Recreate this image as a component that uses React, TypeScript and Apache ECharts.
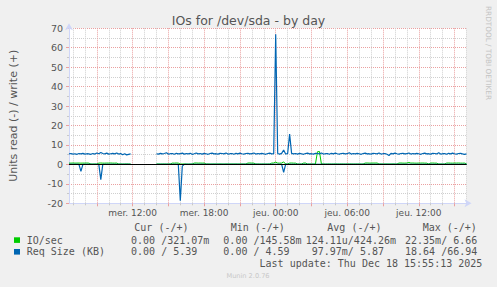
import React, { useEffect, useRef } from 'react';
import * as echarts from 'echarts';

// Time base: Wed 06:40, one sample every 10 minutes, up to Thu 16:00
const START_MIN = 400;
const STEP_MIN = 10;

const xTickLabels = ['mer. 12:00', 'mer. 18:00', 'jeu. 00:00', 'jeu. 06:00', 'jeu. 12:00'];

// IO/sec read (plotted negative)
const ioRead = [
  0, 0, 0, 0, 0, 0, 0, 0, 0, 0,
  0, 0, 0, 0, 0, 0, 0, 0, 0, 0,
  0, 0, 0, 0, 0, 0, 0, 0, 0, 0,
  0, 0, null, null, null, null, null, null, null, null,
  null, null, null, null, 0, 0, 0, 0, 0, 0,
  0, 0, 0, 0, 0, 0, 0.022, 0, 0, 0,
  0, 0, 0, 0, 0, 0, 0, 0, 0, 0,
  0, 0, 0, 0, 0, 0, 0, 0, 0, 0,
  0, 0, 0, 0, 0, 0, 0, 0, 0, 0,
  0, 0, 0, 0, 0, 0, 0, 0, 0, 0,
  0, 0, 0, 0, 0, 0, 0, 0, 0.022, 0,
  0, 0, 0, 0, 0, 0, 0, 0, 0, 0,
  0, 0, 0, 0, 0, 0, 0, 0, 0, 0,
  0, 0, 0, 0, 0, 0, 0, 0, 0, 0,
  0, 0, 0, 0, 0, 0, 0, 0, 0, 0,
  0, 0, 0, 0, 0, 0, 0, 0, 0, 0,
  0, 0, 0, 0, 0, 0, 0, 0, 0, 0,
  0, 0, 0, 0, 0, 0, 0, 0, 0, 0,
  0, 0, 0, 0, 0, 0, 0, 0, 0, 0,
  0, 0, 0, 0, 0, 0, 0, 0, 0, 0,
  0,
];

// IO/sec write (plotted positive)
const ioWrite = [
  0.68, 0.65, 0.72, 0.66, 0.68, 0.7, 0.65, 0.69, 0.67, 0.72,
  0.65, 0.2, 0.18, 0.22, 0.2, 0.68, 0.72, 0.66, 0.65, 0.7,
  0.68, 0.72, 0.66, 0.65, 0.69, 0.2, 0.22, 0.18, 0.2, 0.25,
  0.2, 0.19, null, null, null, null, null, null, null, null,
  null, null, null, null, 0.2, 0.22, 0.18, 0.2, 0.21, 0.19,
  0.2, 0.23, 0.68, 0.65, 0.72, 0.66, 0.2, 0.18, 0.22, 0.2,
  0.15, 0.2, 0.22, 0.68, 0.72, 0.65, 0.69, 0.66, 0.7, 0.2,
  0.22, 0.18, 0.2, 0.21, 0.19, 0.2, 0.23, 0.2, 0.18, 0.22,
  0.2, 0.19, 0.21, 0.2, 0.22, 0.18, 0.2, 0.21, 0.2, 0.19,
  0.68, 0.72, 0.66, 0.65, 0.2, 0.22, 0.18, 0.2, 0.21, 0.19,
  0.2, 0.22, 0.68, 0.72, 1.2, 0.68, 0.65, 0.7, 1.3, 0.2,
  0.22, 0.68, 0.72, 0.66, 0.65, 0.2, 0.19, 0.21, 0.68, 0.72,
  0.2, 0.22, 0.18, 0.2, 0.21, 6.5, 6.66, 0.2, 0.22, 0.18,
  0.2, 0.21, 0.19, 0.2, 0.23, 0.2, 0.18, 0.22, 0.2, 0.19,
  0.21, 0.2, 0.22, 0.18, 0.2, 0.21, 0.2, 0.19, 0.2, 0.68,
  0.72, 0.66, 0.65, 0.7, 0.68, 0.72, 0.2, 0.22, 0.18, 0.2,
  0.21, 0.19, 0.2, 0.23, 0.2, 0.18, 0.68, 0.72, 0.66, 0.65,
  0.7, 1.0, 0.68, 0.72, 0.66, 0.65, 0.69, 0.68, 0.72, 0.66,
  0.65, 0.2, 0.68, 0.72, 0.66, 0.65, 0.2, 0.22, 0.18, 0.2,
  0.68, 0.72, 0.66, 0.65, 0.7, 0.68, 0.72, 0.66, 0.65, 0.69,
  0.32,
];

// Req Size (KB) read (plotted negative)
const reqRead = [
  0, 0, 0, 0, 0, 0, 3.6, 0, 0, 0,
  0, 0, 0, 0, 0, 0, 7.8, 0, 0, 0,
  0, 0, 0, 0, 0, 0, 0, 0, 0, 0,
  0, 0, null, null, null, null, null, null, null, null,
  null, null, null, null, 0, 0, 0, 0, 0, 0,
  0, 0, 0, 0, 0, 0, 18.64, 0.9, 0, 0,
  0, 0, 0, 0, 0, 0, 0, 0, 0, 0,
  0, 0, 0, 0, 0, 0, 0, 0, 0, 0,
  0, 0, 0, 0, 0, 0, 0, 0, 0, 0,
  0, 0, 0, 0, 0, 0, 0, 0, 0, 0,
  0, 0, 0, 0, 0, 0, 0, 0, 4.1, 0,
  0, 0, 0, 0, 0, 0, 0, 0, 0, 0,
  0, 0, 0, 0, 0, 0, 0, 0, 0, 0,
  0, 0, 0, 0, 0, 0, 0, 0, 0, 0,
  0, 0, 0, 0, 0, 0, 0, 0, 0, 0,
  0, 0, 0, 0, 0, 0, 0, 0, 0, 0,
  0, 0, 0, 0, 0, 0, 0, 0, 0, 0,
  0, 0, 0, 0, 0, 0, 0, 0, 0, 0,
  0, 0, 0, 0, 0, 0, 0, 0, 0, 0,
  0, 0, 0, 0, 0, 0, 0, 0, 0, 0,
  0,
];

// Req Size (KB) write (plotted positive)
const reqWrite = [
  5.4, 5.6, 5.3, 5.5, 5.2, 5.6, 5.4, 5.7, 5.3, 5.5,
  5.4, 5.2, 5.6, 5.3, 5.9, 5.5, 6.1, 5.6, 5.4, 5.8,
  5.3, 5.5, 5.7, 5.4, 5.9, 5.3, 5.6, 5.0, 5.5, 4.9,
  5.2, 5.4, null, null, null, null, null, null, null, null,
  null, null, null, null, 5.5, 5.3, 5.7, 5.4, 5.6, 6.0,
  5.3, 5.5, 5.6, 5.2, 5.7, 5.4, 5.5, 5.8, 5.3, 5.6,
  5.4, 5.7, 5.2, 5.5, 5.9, 5.4, 5.6, 5.3, 5.7, 5.5,
  5.2, 5.6, 5.8, 5.4, 5.5, 5.3, 5.7, 5.6, 5.4, 5.9,
  5.3, 5.5, 5.6, 5.2, 5.7, 5.4, 5.8, 5.5, 5.3, 5.6,
  5.7, 5.4, 5.5, 5.9, 5.3, 5.6, 5.4, 5.7, 5.5, 5.2,
  5.6, 5.8, 5.4, 5.5, 66.94, 5.6, 5.3, 5.7, 7.4, 5.4,
  5.5, 15.6, 5.7, 5.4, 5.6, 5.3, 5.7, 5.5, 5.2, 5.6,
  5.8, 5.4, 5.5, 5.3, 5.7, 5.6, 5.4, 5.9, 5.3, 5.5,
  5.6, 5.2, 5.7, 5.4, 5.8, 5.5, 5.3, 5.6, 5.7, 5.4,
  5.5, 6.0, 5.3, 5.6, 5.4, 5.7, 5.5, 5.2, 5.6, 5.8,
  5.4, 5.5, 5.3, 5.7, 5.6, 5.4, 5.9, 5.3, 5.5, 5.6,
  5.2, 4.59, 5.7, 5.4, 5.8, 5.5, 5.3, 5.6, 5.7, 5.4,
  5.5, 5.9, 5.3, 5.6, 5.4, 5.7, 5.5, 5.2, 5.6, 5.8,
  5.4, 5.5, 5.3, 5.7, 5.6, 5.4, 6.0, 5.3, 5.5, 5.6,
  5.2, 5.7, 5.4, 5.8, 5.5, 5.3, 5.6, 5.7, 5.4, 5.2,
  5.39,
];

// Legend texts
const legendHeaders = ['Cur (-/+)', 'Min (-/+)', 'Avg (-/+)', 'Max (-/+)'];
const legendNames = ['IO/sec', 'Req Size (KB)'];
const legendColors = ['#00CC00', '#0066B3'];
const ioReadStats = ['0.00', '0.00', '124.11u', '22.35m'];
const ioWriteStats = ['321.07m', '145.58m', '424.26m', '6.66'];
const reqReadStats = ['0.00', '0.00', '97.97m', '18.64'];
const reqWriteStats = ['5.39', '4.59', '5.87', '66.94'];
const lastUpdate = 'Last update: Thu Dec 18 15:55:13 2025';

function fmtTime(min: number) {
  const day = min < 1440 ? 'mer.' : 'jeu.';
  const m = min % 1440;
  const h = Math.floor(m / 60);
  const mm = m % 60;
  return `${day} ${String(h).padStart(2, '0')}:${String(mm).padStart(2, '0')}`;
}

const timeCategories = ioWrite.map((_, i) => fmtTime(START_MIN + i * STEP_MIN));

const minuteOf = (i: number) => START_MIN + i * STEP_MIN;
const isMinorHour = (i: number) => minuteOf(i) % 60 === 0 && minuteOf(i) % 180 !== 0;
const isMajorHour = (i: number) => minuteOf(i) % 180 === 0;

const TEXT = '#555555';
const SANS = 'DejaVu Sans';
const MONO = 'DejaVu Sans Mono';
const AXIS = '#CFD6F8';

const unitOf = (s: string) => (/[a-z]$/i.test(s) ? s.slice(-1) : '');
const numOf = (s: string) => (unitOf(s) ? s.slice(0, -1) : s);

export default function App() {
  const ref = useRef<HTMLDivElement>(null);

  useEffect(() => {
    if (!ref.current) return;
    const chart = echarts.init(ref.current, null, { renderer: 'svg' });

    const cw = 6.02;
    const cellX = [119, 211.3, 305.7, 399];
    const rowY = [240, 251.7];
    const graphic: any[] = [];

    const txt = (text: string, x: number, y: number, opts: any = {}) => ({
      type: 'text',
      x,
      y,
      silent: true,
      rotation: opts.rotation || 0,
      style: {
        text,
        fill: opts.fill || TEXT,
        fontSize: opts.fontSize || 10,
        fontFamily: opts.fontFamily || MONO,
        align: opts.align || 'left',
        verticalAlign: 'middle',
      },
    });

    graphic.push(txt('IOs for /dev/sda - by day', 248.5, 20, { fontFamily: SANS, fontSize: 12.5, align: 'center' }));
    graphic.push(
      txt('RRDTOOL / TOBI OETIKER', 488, 53, {
        fontFamily: SANS,
        fontSize: 7.3,
        align: 'center',
        fill: '#c4c4c4',
        rotation: -Math.PI / 2,
      })
    );
    const headerX = [134.3, 230.7, 327.3, 422.7];
    legendHeaders.forEach((h, k) => graphic.push(txt(h, headerX[k], 227.3)));

    const rows = [
      [ioReadStats, ioWriteStats],
      [reqReadStats, reqWriteStats],
    ];
    rows.forEach(([rd, wr], r) => {
      const y = rowY[r];
      graphic.push({
        type: 'rect',
        silent: true,
        shape: { x: 14, y: y - 2.7, width: 6, height: 5.6 },
        style: { fill: legendColors[r] },
      });
      graphic.push(txt(legendNames[r], 26.7, y));
      for (let k = 0; k < 4; k++) {
        const a = rd[k];
        const b = wr[k];
        const aNum = numOf(a);
        const readPart = a + (unitOf(a) ? '' : ' ');
        const bNum = numOf(b);
        const padded = ' '.repeat(Math.max(0, 6 - bNum.length)) + b;
        const writePart = bNum.length >= 6 ? padded : padded.slice(1);
        const x = cellX[k] + (6 - aNum.length) * cw;
        graphic.push(txt(readPart + '/' + writePart, x, y));
      }
    });
    graphic.push(txt(lastUpdate, 482.3, 263.3, { align: 'right' }));
    graphic.push(txt('Munin 2.0.76', 248, 276, { fontFamily: SANS, fontSize: 6.6, align: 'center', fill: '#c8c8c8' }));

    const line = (name: string, data: any[], color: string, z: number, width: number) => ({
      type: 'line',
      name,
      data,
      xAxisIndex: 0,
      yAxisIndex: 0,
      showSymbol: false,
      symbol: 'none',
      connectNulls: false,
      silent: true,
      z,
      lineStyle: { color, width },
      itemStyle: { color },
    });

    const neg = (arr: (number | null)[]) => arr.map((v) => (v == null ? null : -v));

    chart.setOption({
      animation: false,
      backgroundColor: '#F0F0F0',
      grid: {
        left: 66.5,
        top: 28.3,
        width: 400,
        height: 175,
        show: true,
        backgroundColor: '#FFFFFF',
        borderWidth: 0,
      },
      xAxis: [
        {
          type: 'category',
          data: timeCategories,
          boundaryGap: false,
          axisLine: {
            show: true,
            onZero: false,
            lineStyle: { color: AXIS, width: 1 },
            symbol: ['none', 'arrow'],
            symbolSize: [6, 7],
            symbolOffset: [0, 5],
          },
          axisTick: { show: true, length: 2, interval: (i: number) => isMinorHour(i), lineStyle: { color: '#c8c8c8' } },
          axisLabel: {
            show: true,
            interval: (_i: number, v: string) => xTickLabels.includes(v),
            color: TEXT,
            fontSize: 9,
            fontFamily: SANS,
            margin: 5,
            hideOverlap: false,
          },
          splitLine: {
            show: true,
            interval: (i: number) => isMinorHour(i),
            lineStyle: { color: '#cfcfcf', type: [1, 1], width: 1 },
          },
        },
        {
          type: 'category',
          data: timeCategories,
          boundaryGap: false,
          position: 'bottom',
          axisLine: { show: false, onZero: false },
          axisTick: { show: true, length: 3, interval: (i: number) => isMajorHour(i), lineStyle: { color: '#eaa0a0' } },
          axisLabel: { show: false },
          splitLine: {
            show: true,
            interval: (i: number) => isMajorHour(i),
            lineStyle: { color: '#eaa0a0', type: [1, 1], width: 1 },
          },
        },
      ],
      yAxis: {
        type: 'value',
        min: -20,
        max: 70,
        interval: 10,
        name: 'Units read (-) / write (+)',
        nameLocation: 'middle',
        nameGap: 50,
        nameTextStyle: { color: TEXT, fontSize: 11, fontFamily: SANS },
        axisLine: {
          show: true,
          lineStyle: { color: AXIS, width: 1 },
          symbol: ['none', 'arrow'],
          symbolSize: [6, 7],
          symbolOffset: [0, 5],
        },
        axisTick: { show: true, length: 3, lineStyle: { color: '#eaa0a0' } },
        axisLabel: { color: TEXT, fontSize: 9.5, fontFamily: SANS, margin: 6 },
        splitLine: { show: true, lineStyle: { color: '#eaa0a0', type: [1, 1], width: 1 } },
        minorTick: { show: true, splitNumber: 2, length: 2, lineStyle: { color: '#c8c8c8' } },
        minorSplitLine: { show: true, lineStyle: { color: '#cfcfcf', type: [1, 1], width: 1 } },
      },
      series: [
        line('IO/sec read', neg(ioRead), '#00CC00', 2, 1),
        line('IO/sec', ioWrite, '#00CC00', 2, 1),
        line('Req Size (KB) read', neg(reqRead), '#0066B3', 3, 1.2),
        line('Req Size (KB)', reqWrite, '#0066B3', 3, 1.2),
        {
          type: 'line',
          name: 'zero',
          data: [],
          z: 10,
          silent: true,
          markLine: {
            silent: true,
            symbol: ['none', 'none'],
            label: { show: false },
            lineStyle: { color: '#000000', width: 1, type: 'solid' },
            data: [{ yAxis: 0 }],
          },
        },
      ],
      graphic,
    });

    return () => chart.dispose();
  }, []);

  return (
    <div
      ref={ref}
      style={{ position: 'fixed', left: 0, top: 0, width: 497, height: 287 }}
    />
  );
}
